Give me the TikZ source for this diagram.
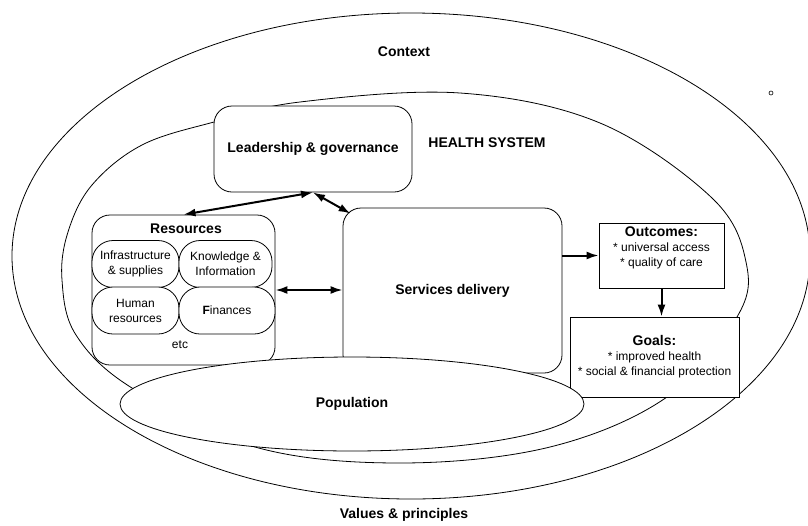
\documentclass[tikz,border=0pt]{standalone}
\usepackage{fontspec}
\setmainfont{Liberation Sans}
\usepackage{tikz}
\usetikzlibrary{shapes.geometric}
\usetikzlibrary{arrows.meta}
\tikzstyle{every picture}=[x=1pt,y=-1pt]
\tikzstyle{rbox}=[draw, fill=white, rounded corners=18pt, line width=.8pt]
\tikzstyle{pill}=[draw, fill=white, rounded corners=21pt, line width=.8pt,
                  inner sep=1pt, align=center, minimum height=47pt,
                  font=\fontsize{12}{15}\selectfont]
\tikzstyle{sqbox}=[draw, fill=white, line width=.8pt, inner sep=2pt,
                   align=center, font=\fontsize{12}{15}\selectfont]
\tikzstyle{heading}=[font=\fontsize{14}{16}\selectfont\bfseries]
\tikzstyle{link}=[line width=2pt, >={Latex[length=12pt,width=8pt]}]

\begin{document}
\begin{tikzpicture}
  \useasboundingbox (0,0) rectangle (808,525);
  % context and health system
  \draw[line width=.8pt] (411,256) ellipse [x radius=399, y radius=243];
  \draw[line width=.8pt] plot[smooth cycle, tension=.6] coordinates
    {(460,93) (600,123) (712,198) (746,262) (737,317) (667,397) (550,447)
     (400,463) (255,447) (132,388) (76,335) (62,280) (68,232) (92,185)
     (142,145) (214,122) (300,102)};
  \node[heading] (context) at (404,52) {Context};
  \node[heading] (values) at (404,515) {Values \& principles};
  \node[heading] (healthsys) at (487,143) {HEALTH SYSTEM};
  \node[draw, circle, inner sep=0pt, minimum size=4pt, line width=.6pt] (dot) at (771,93) {};

  \node[rbox, heading, minimum width=198pt, minimum height=86pt]
    (leadership) at (313,149) {Leadership \& governance};

  % resources
  \node[rbox, minimum width=183pt, minimum height=150pt] (resources) at (183.5,290) {};
  \node[heading] (restitle) at (186,229) {Resources};
  \node[pill, minimum width=87pt] (infra) at (135.5,264) {Infrastructure\\ \& supplies};
  \node[pill, minimum width=93pt] (knowledge) at (225.5,264) {Knowledge \&\\ Information};
  \node[pill, minimum width=87pt] (human) at (135.5,310.5) {Human\\ resources};
  \node[pill, minimum width=96pt] (finances) at (227,310.5) {\textbf{F}inances};
  \node[font=\fontsize{12}{15}\selectfont] (etc) at (180,345) {etc};

  \node[rbox, heading, minimum width=219pt, minimum height=165pt]
    (services) at (452.5,290.5) {Services delivery};

  \node[sqbox, minimum width=125pt, minimum height=65pt] (outcomes) at (661.5,255.5)
    {{\fontsize{14}{16}\selectfont\bfseries Outcomes:}\\ * universal access\\
     * quality of care\rule[-17pt]{0pt}{17pt}};
  \node[sqbox, minimum width=169pt, minimum height=80pt] (goals) at (654.5,357)
    {{\fontsize{14}{16}\selectfont\bfseries Goals:}\\ * improved health\\
     * social \& financial protection};

  \node[draw, ellipse, fill=white, line width=.8pt, heading, inner sep=0pt,
        minimum width=464pt, minimum height=94pt] (population) at (352,404) {Population};

  % links
  \draw[link, <->] (resources.north) -- (leadership.south);
  \draw[link, <->] (leadership.south) -- ([xshift=8pt,yshift=-6pt]services.north west);
  \draw[link, <->] (resources.east) -- (resources.east -| services.west);
  \draw[link, ->] (outcomes.west -| services.east) -- (outcomes.west);
  \draw[link, ->] (outcomes.south) -- (outcomes.south |- goals.north);
\end{tikzpicture}
\end{document}
